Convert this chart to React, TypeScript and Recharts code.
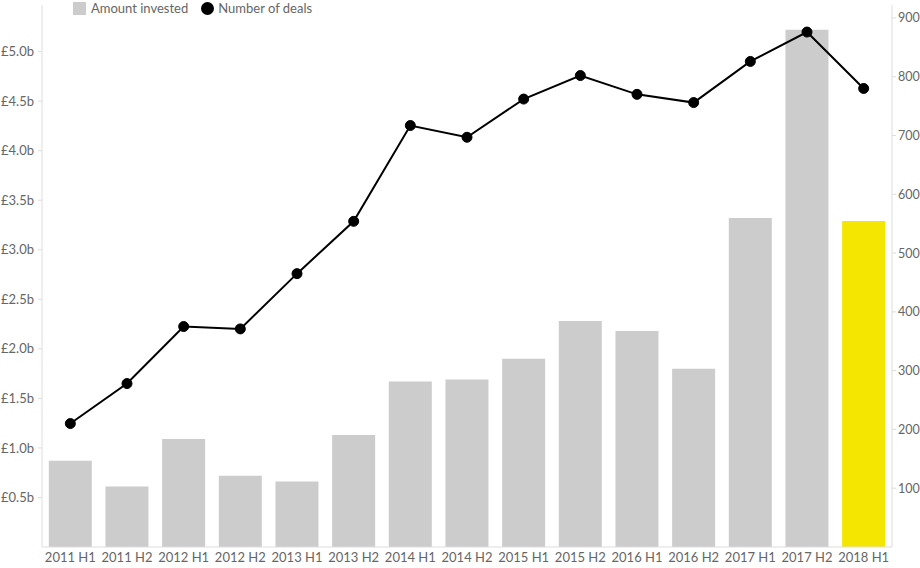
import { Bar, Cell, ComposedChart, Legend, Line, XAxis, YAxis } from 'recharts';

const periods = [
  '2011 H1', '2011 H2', '2012 H1', '2012 H2', '2013 H1',
  '2013 H2', '2014 H1', '2014 H2', '2015 H1', '2015 H2',
  '2016 H1', '2016 H2', '2017 H1', '2017 H2', '2018 H1',
];

// £ billions
const amountInvested = [
  0.87, 0.61, 1.09, 0.72, 0.66, 1.13, 1.67, 1.69, 1.9, 2.28, 2.18, 1.8, 3.32, 5.22, 3.29,
];

const numberOfDeals = [
  210, 278, 375, 371, 465, 554, 717, 697, 762, 802, 770, 756, 826, 876, 780,
];

const amountTicks = [0.5, 1, 1.5, 2, 2.5, 3, 3.5, 4, 4.5, 5];
const dealTicks = [100, 200, 300, 400, 500, 600, 700, 800, 900];

const chartData = periods.map((period, i) => ({
  period,
  amount: amountInvested[i],
  deals: numberOfDeals[i],
}));

const FONT = 'Lato, "Noto Sans", sans-serif';
const TEXT = '#666';
const AXIS = '#ddd';
const GREY = '#cccccc';
const YELLOW = '#f5e600';

function ChartLegend() {
  return (
    <div style={{ display: 'flex', alignItems: 'center', fontFamily: FONT, fontSize: 13, color: TEXT }}>
      <span style={{ width: 13, height: 13, background: GREY, display: 'inline-block', marginRight: 5 }} />
      <span style={{ marginRight: 13 }}>Amount invested</span>
      <span
        style={{ width: 13, height: 13, borderRadius: '50%', background: '#000', display: 'inline-block', marginRight: 4 }}
      />
      <span>Number of deals</span>
    </div>
  );
}

export default function App() {
  return (
    <div style={{ position: 'absolute', left: 0, top: 0, width: 920, height: 568 }}>
      <ComposedChart
        width={920}
        height={568}
        data={chartData}
        margin={{ top: 5, right: 0, bottom: 0, left: 0 }}
        barCategoryGap="12%"
      >
        <XAxis
          dataKey="period"
          height={21}
          tickLine={false}
          tickSize={0}
          tickMargin={6}
          axisLine={{ stroke: AXIS }}
          tick={{ fontSize: 13, fill: TEXT, fontFamily: FONT }}
          interval={0}
        />
        <YAxis
          yAxisId="amount"
          width={42}
          domain={[0, 5.47]}
          ticks={amountTicks}
          tickFormatter={(v: number) => `£${v.toFixed(1)}b`}
          tickSize={4}
          tickMargin={4}
          axisLine={{ stroke: AXIS }}
          tickLine={{ stroke: AXIS }}
          tick={{ fontSize: 13, fill: TEXT, fontFamily: FONT }}
        />
        <YAxis
          yAxisId="deals"
          orientation="right"
          width={28}
          domain={[0, 922]}
          ticks={dealTicks}
          tickSize={4}
          tickMargin={2}
          axisLine={{ stroke: AXIS }}
          tickLine={{ stroke: AXIS }}
          tick={{ fontSize: 12.5, fill: TEXT, fontFamily: FONT }}
        />
        <Legend
          layout="horizontal"
          verticalAlign="middle"
          align="center"
          wrapperStyle={{ top: 0, left: 73, width: 'auto' }}
          content={() => <ChartLegend />}
        />
        <Bar yAxisId="amount" dataKey="amount" name="Amount invested" fill={GREY} isAnimationActive={false}>
          {chartData.map((d, i) => (
            <Cell key={d.period} fill={i === chartData.length - 1 ? YELLOW : GREY} />
          ))}
        </Bar>
        <Line
          yAxisId="deals"
          type="linear"
          dataKey="deals"
          name="Number of deals"
          stroke="#000"
          strokeWidth={2}
          dot={{ r: 5, fill: '#000', stroke: '#000', strokeWidth: 1 }}
          activeDot={false}
          isAnimationActive={false}
        />
      </ComposedChart>
    </div>
  );
}
